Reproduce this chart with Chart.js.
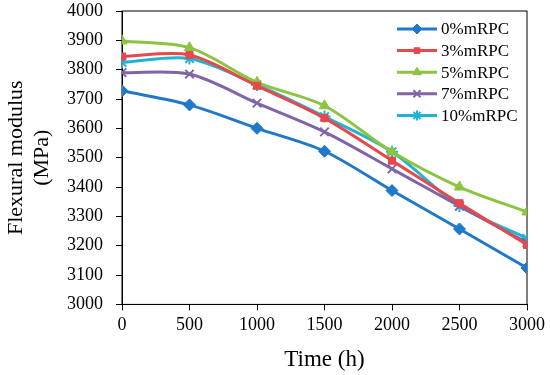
<!DOCTYPE html>
<html>
<head>
<meta charset="utf-8">
<script src="https://cdn.jsdelivr.net/npm/chart.js@4"></script>
<style>
  html, body { margin: 0; padding: 0; background: #fff; }
  #wrap { width: 550px; height: 375px; }
</style>
</head>
<body>
<div id="wrap"><canvas id="grafico" width="550" height="375"></canvas></div>
<script>
const times = [0, 500, 1000, 1500, 2000, 2500, 3000];
const mrpc0 = [3728, 3680, 3600, 3522, 3388, 3257, 3124];
const mrpc3 = [3845, 3850, 3745, 3635, 3490, 3345, 3203];
const mrpc5 = [3898, 3875, 3757, 3677, 3520, 3400, 3315];
const mrpc7 = [3790, 3785, 3686, 3588, 3462, 3335, 3210];
const mrpc10 = [3825, 3838, 3748, 3640, 3520, 3335, 3225];
const seriesNames = ['0%mRPC', '3%mRPC', '5%mRPC', '7%mRPC', '10%mRPC'];
const colors = ['#1F78C8', '#E8474B', '#8CC33F', '#8064A8', '#1FB4D2'];
const markers = ['rectRot', 'rect', 'triangle', 'crossRot', 'star'];
const serif = "'Liberation Serif', 'Times New Roman', serif";

function series(i, vals) {
  return {
    label: seriesNames[i],
    data: times.map((t, k) => ({x: t, y: vals[k]})),
    borderColor: colors[i],
    backgroundColor: colors[i],
    borderWidth: 3,
    pointStyle: markers[i],
    pointRadius: markers[i] === 'rect' ? 5 : 6,
    pointBorderWidth: markers[i] === 'crossRot' || markers[i] === 'star' ? 2 : 1,
    tension: 0.3
  };
}

// legend drawn inside the plot: line + marker + text
const insideLegend = {
  id: 'insideLegend',
  afterDraw(chart) {
    const ctx = chart.ctx;
    const x0 = 397, x1 = 437, y0 = 29, dy = 21.6;
    ctx.save();
    chart.data.datasets.forEach((ds, i) => {
      const y = y0 + i * dy;
      ctx.strokeStyle = ds.borderColor;
      ctx.lineWidth = 3;
      ctx.beginPath();
      ctx.moveTo(x0, y);
      ctx.lineTo(x1, y);
      ctx.stroke();
      ctx.fillStyle = ds.backgroundColor;
      ctx.strokeStyle = ds.borderColor;
      ctx.lineWidth = ds.pointBorderWidth;
      Chart.helpers.drawPoint(ctx, {pointStyle: ds.pointStyle, radius: ds.pointRadius - 1, borderWidth: ds.pointBorderWidth}, (x0 + x1) / 2, y);
      ctx.fillStyle = '#000';
      ctx.font = '17px ' + serif;
      ctx.textBaseline = 'middle';
      ctx.textAlign = 'left';
      ctx.fillText(ds.label, x1 + 4, y + 1);
    });
    ctx.restore();
  }
};

const frame = {
  id: 'frame',
  beforeDatasetsDraw(chart) {
    const a = chart.chartArea;
    const ctx = chart.ctx;
    ctx.save();
    ctx.strokeStyle = '#000';
    ctx.lineWidth = 1;
    ctx.strokeRect(a.left, a.top, a.right - a.left, a.bottom - a.top);
    ctx.restore();
  }
};

const config = {
  type: 'line',
  data: {
    datasets: [
      series(0, mrpc0),
      series(1, mrpc3),
      series(2, mrpc5),
      series(3, mrpc7),
      series(4, mrpc10)
    ]
  },
  options: {
    responsive: false,
    animation: false,
    layout: { padding: { left: 0, right: 23, top: 0, bottom: 0 } },
    plugins: {
      legend: { display: false },
      tooltip: { enabled: false }
    },
    scales: {
      x: {
        type: 'linear',
        min: 0,
        max: 3000,
        ticks: { stepSize: 500, color: '#000', font: { family: serif, size: 18 }, padding: 4, callback: v => String(v) },
        grid: { drawOnChartArea: false, color: '#000', tickLength: 6 },
        border: { color: '#000' },
        title: { display: true, text: 'Time (h)', color: '#000', font: { family: serif, size: 23, lineHeight: 1.0 }, padding: { top: 8 } }
      },
      y: {
        min: 3000,
        max: 4000,
        afterFit(scale) {
          scale.width = 122;
          scale.paddingTop = 11;
        },
        ticks: { stepSize: 100, color: '#000', font: { family: serif, size: 18 }, padding: 13, callback: v => String(v) },
        grid: { drawOnChartArea: false, color: '#000', tickLength: 6 },
        border: { color: '#000' },
        title: { display: true, text: ['Flexural modulus', '(MPa)'], color: '#000', font: { family: serif, size: 22 }, padding: { top: 3, bottom: 11 } }
      }
    }
  },
  plugins: [frame, insideLegend]
};

const myChart = new Chart(document.getElementById('grafico'), config);
</script>
</body>
</html>
